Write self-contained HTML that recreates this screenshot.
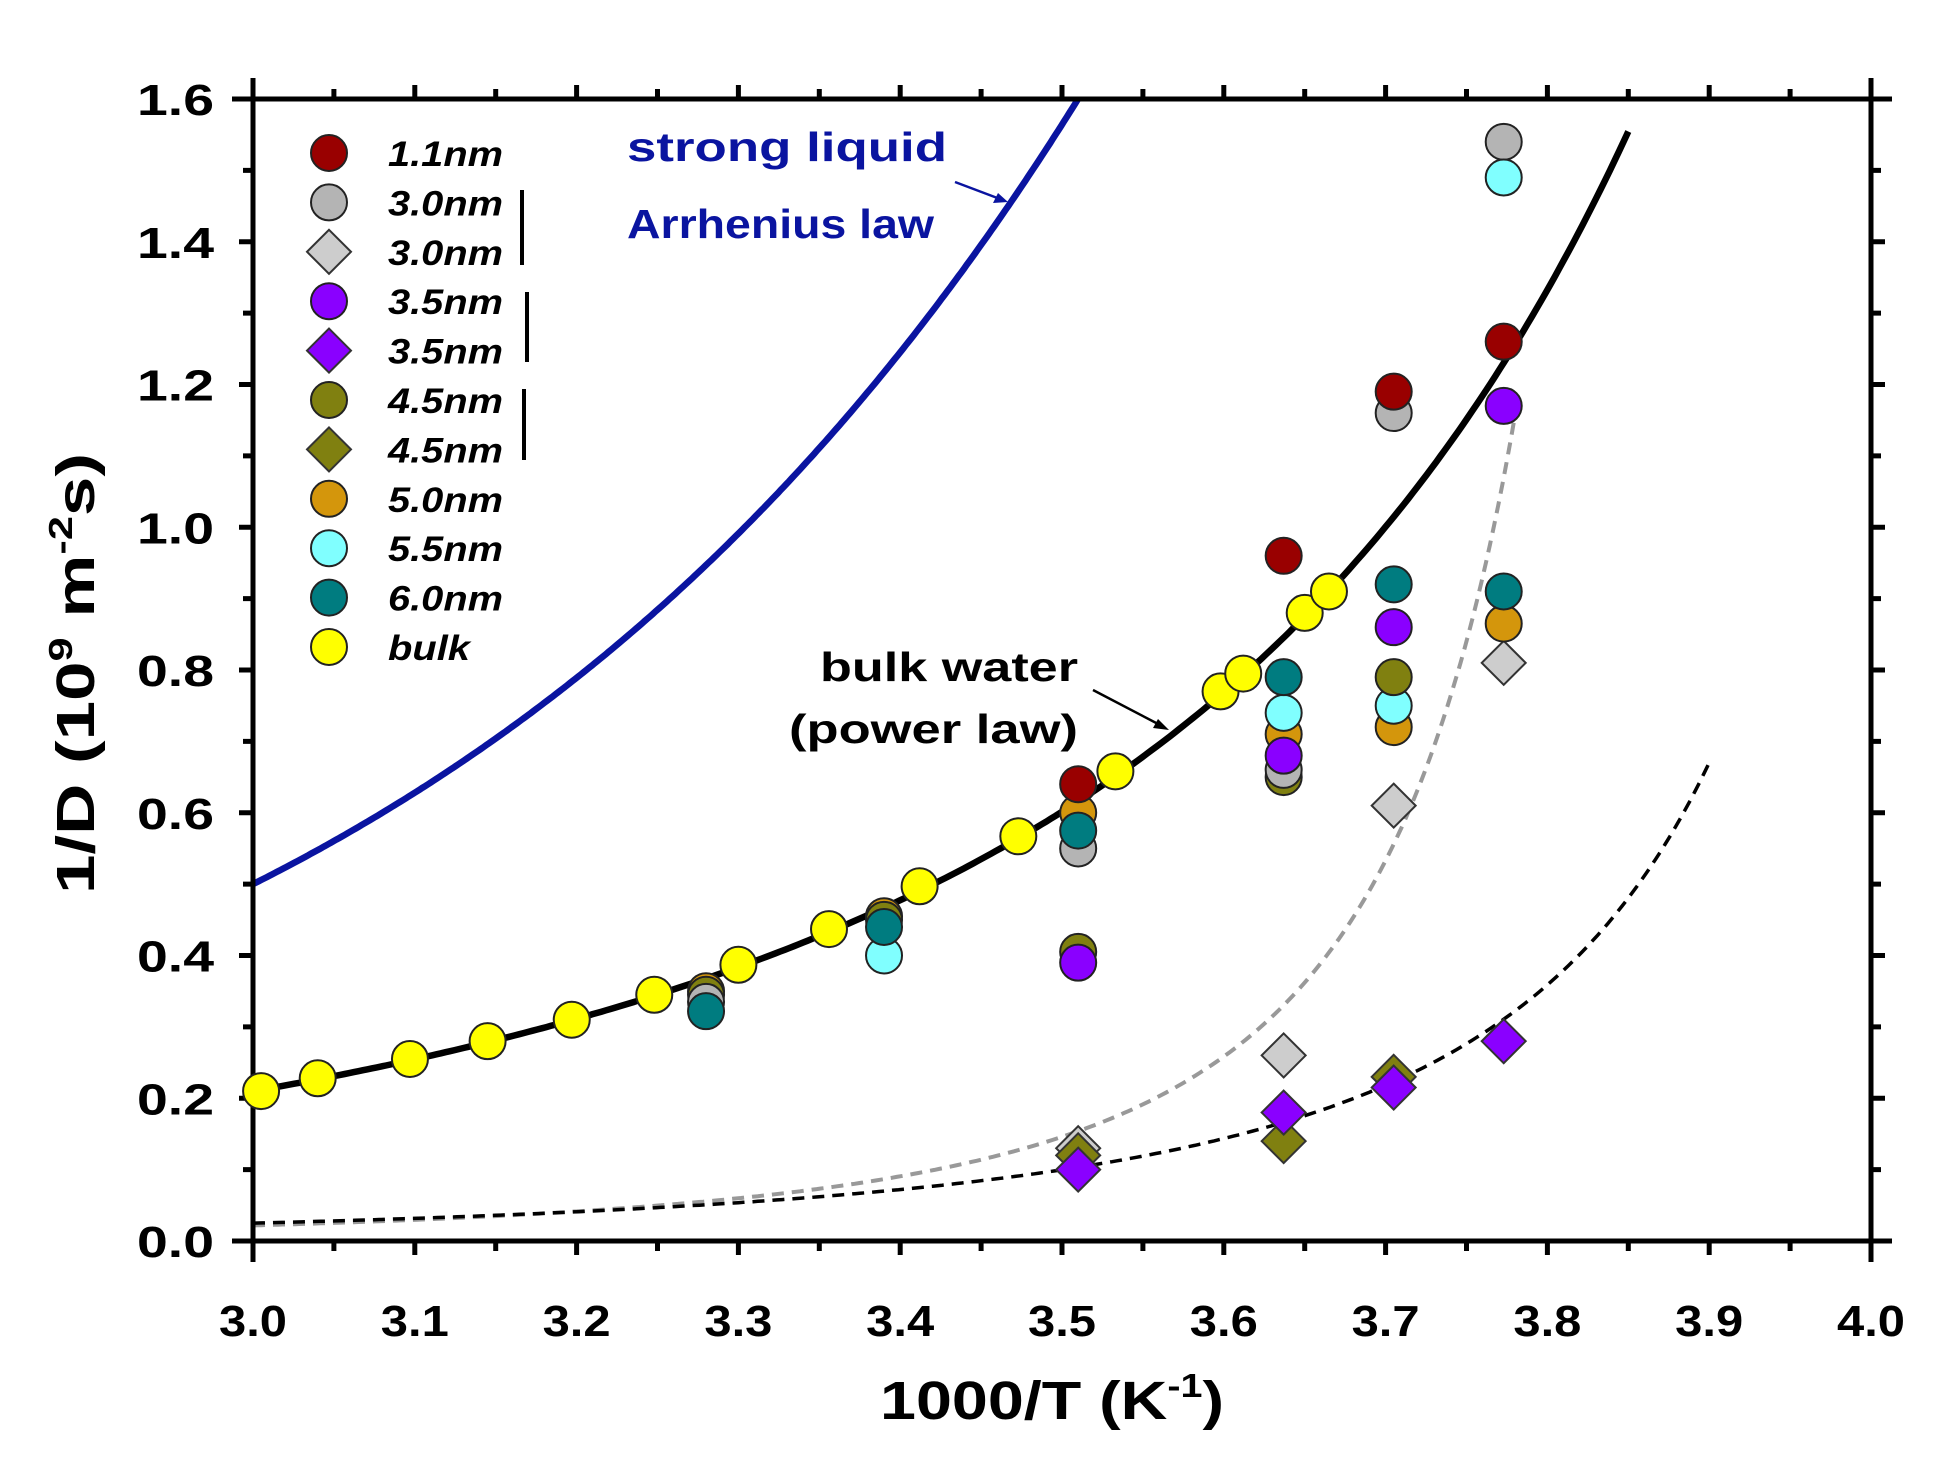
<!DOCTYPE html>
<html><head><meta charset="utf-8"><style>
html,body{margin:0;padding:0;background:#fff;}
svg{display:block;}
text{font-family:"Liberation Sans",Arial,sans-serif;font-weight:bold;}
</style></head><body>
<svg id="s" width="1938" height="1458" viewBox="0 0 1938 1458" xmlns="http://www.w3.org/2000/svg">
<rect width="1938" height="1458" fill="#fff"/>
<g id="g"></g>
</svg>
<script>
const X0=253,X1=1871,Y0=1241,Y1=99;
const sx=x=>X0+(x-3)*(X1-X0);
const sy=y=>Y0-y*(Y0-Y1)/1.6;
let h='';
const TL=(w)=>`textLength="${w}" lengthAdjust="spacingAndGlyphs"`;
function path(f,a,b,attrs){let d='';for(let i=0;i<=300;i++){const x=a+(b-a)*i/300;const y=f(x);if(y>1.6){break;}d+=(i?'L':'M')+sx(x).toFixed(1)+' '+sy(y).toFixed(1);}h+=`<path d="${d}" fill="none" ${attrs}/>`;}
path(x=>0.5*Math.exp(2.281*(x-3)),3,3.515,'stroke="#0a14a0" stroke-width="6.5"');
path(x=>{const t=1000/x/217-1;return 0.0603/(t*t);},3,3.85,'stroke="#000" stroke-width="6.5"');
path(x=>{const t=1000/x/251-1;return 0.00188*Math.pow(t,-2.2);},3,3.78,'stroke="#999" stroke-width="4" stroke-dasharray="12 8"');
path(x=>{const t=1000/x/238-1;return 0.00401/(t*t);},3,3.9,'stroke="#000" stroke-width="3.5" stroke-dasharray="12 8"');
h+=`<g stroke="#000" stroke-width="5">`;
h+=`<line x1="${X0}" y1="78" x2="${X0}" y2="1262"/><line x1="${X1}" y1="78" x2="${X1}" y2="1262"/>`;
h+=`<line x1="232" y1="${Y0}" x2="1892" y2="${Y0}"/><line x1="232" y1="${Y1}" x2="1892" y2="${Y1}"/>`;
for(let i=0;i<=20;i++){const x=sx(3+i*0.05);const L=i%2?10:14;
 h+=`<line x1="${x}" y1="${Y0}" x2="${x}" y2="${Y0+L}"/><line x1="${x}" y1="${Y1}" x2="${x}" y2="${Y1-L}"/>`;}
for(let i=0;i<=16;i++){const y=sy(i*0.1);const L=i%2?10:14;
 h+=`<line x1="${X0}" y1="${y}" x2="${X0-L}" y2="${y}"/><line x1="${X1}" y1="${y}" x2="${X1+L}" y2="${y}"/>`;}
h+=`</g>`;
for(let i=0;i<=8;i++){h+=`<text x="137" y="${sy(i*0.2)+16}" font-size="44" ${TL(77)}>${(i*0.2).toFixed(1)}</text>`;}
for(let i=0;i<=10;i++){h+=`<text x="${sx(3+i*0.1)-34}" y="1336" font-size="44" ${TL(68)}>${(3+i*0.1).toFixed(1)}</text>`;}
h+=`<text x="880" y="1419" font-size="54" ${TL(344)}>1000/T (K<tspan dy="-22" font-size="33">-1</tspan><tspan dy="22">)</tspan></text>`;
h+=`<text transform="translate(94,894) rotate(-90)" font-size="54" ${TL(441)}>1/D (10<tspan dy="-22" font-size="33">9</tspan><tspan dy="22"> m</tspan><tspan dy="-22" font-size="33">-2</tspan><tspan dy="22">s)</tspan></text>`;
const C={r:'#990000',g:'#b4b4b4',gd:'#cdcdcd',p:'#8a00ff',o:'#808010',or:'#d4960c',c:'#80ffff',t:'#007c80',y:'#ffff00'};
function circ(x,y,c){h+=`<circle cx="${x}" cy="${y}" r="18" fill="${c}" stroke="#222" stroke-width="2"/>`;}
function dia(x,y,c){const r=22;h+=`<path d="M${x} ${y-r}L${x+r} ${y}L${x} ${y+r}L${x-r} ${y}Z" fill="${c}" stroke="#333" stroke-width="2"/>`;}
const P=(x,y,c,d)=>d?dia(sx(x),sy(y),c):circ(sx(x),sy(y),c);
[[3.005,0.21],[3.04,0.228],[3.097,0.255],[3.145,0.28],[3.197,0.31],[3.248,0.345],[3.3,0.387],[3.356,0.437],[3.412,0.497],[3.473,0.567],[3.533,0.658],[3.598,0.77],[3.612,0.795],[3.65,0.88],[3.665,0.91]].forEach(p=>P(p[0],p[1],C.y));
P(3.51,0.13,C.gd,1);P(3.637,0.26,C.gd,1);P(3.705,0.61,C.gd,1);P(3.773,0.81,C.gd,1);
P(3.51,0.12,C.o,1);P(3.637,0.14,C.o,1);P(3.705,0.23,C.o,1);
P(3.51,0.10,C.p,1);P(3.637,0.18,C.p,1);P(3.705,0.215,C.p,1);P(3.773,0.28,C.p,1);
P(3.28,0.35,C.or);P(3.28,0.345,C.o);P(3.28,0.335,C.g);P(3.28,0.322,C.t);
P(3.39,0.455,C.or);P(3.39,0.45,C.o);P(3.39,0.40,C.c);P(3.39,0.44,C.t);
P(3.51,0.405,C.o);P(3.51,0.39,C.p);P(3.51,0.55,C.g);P(3.51,0.60,C.or);P(3.51,0.575,C.t);P(3.51,0.64,C.r);
P(3.637,0.65,C.o);P(3.637,0.66,C.g);P(3.637,0.71,C.or);P(3.637,0.68,C.p);P(3.637,0.74,C.c);P(3.637,0.79,C.t);P(3.637,0.96,C.r);
P(3.705,0.72,C.or);P(3.705,0.75,C.c);P(3.705,0.79,C.o);P(3.705,0.86,C.p);P(3.705,0.92,C.t);P(3.705,1.16,C.g);P(3.705,1.19,C.r);
P(3.773,0.865,C.or);P(3.773,0.91,C.t);P(3.773,1.17,C.p);P(3.773,1.26,C.r);P(3.773,1.54,C.g);P(3.773,1.49,C.c);
const L=[['1.1nm',C.r,0],['3.0nm',C.g,0],['3.0nm',C.gd,1],['3.5nm',C.p,0],['3.5nm',C.p,1],['4.5nm',C.o,0],['4.5nm',C.o,1],['5.0nm',C.or,0],['5.5nm',C.c,0],['6.0nm',C.t,0],['bulk',C.y,0]];
L.forEach((l,i)=>{const y=153+i*49.4;l[2]?dia(329,y,l[1]):circ(329,y,l[1]);h+=`<text x="388" y="${y+13}" font-size="35" font-style="italic" ${TL(l[0]=='bulk'?82:115)}>${l[0]}</text>`;});
h+=`<g stroke="#000" stroke-width="4"><line x1="522" y1="190" x2="522" y2="265"/><line x1="527" y1="292" x2="527" y2="362"/><line x1="524" y1="389" x2="524" y2="460"/></g>`;
h+=`<text x="627" y="161" font-size="41" fill="#0a14a0" ${TL(320)}>strong liquid</text><text x="627" y="238" font-size="41" fill="#0a14a0" ${TL(307)}>Arrhenius law</text>`;
h+=`<line x1="955" y1="182" x2="1000" y2="199" stroke="#0a14a0" stroke-width="2.5"/><path d="M1008 202L993 203L998 193Z" fill="#0a14a0"/>`;
h+=`<text x="820" y="681" font-size="41" ${TL(258)}>bulk water</text><text x="789" y="743" font-size="41" ${TL(289)}>(power law)</text>`;
h+=`<line x1="1093" y1="690" x2="1160" y2="725" stroke="#000" stroke-width="2.5"/><path d="M1169 730L1153 728L1158 719Z"/>`;
document.getElementById('g').innerHTML=h;
</script>
</body></html>
